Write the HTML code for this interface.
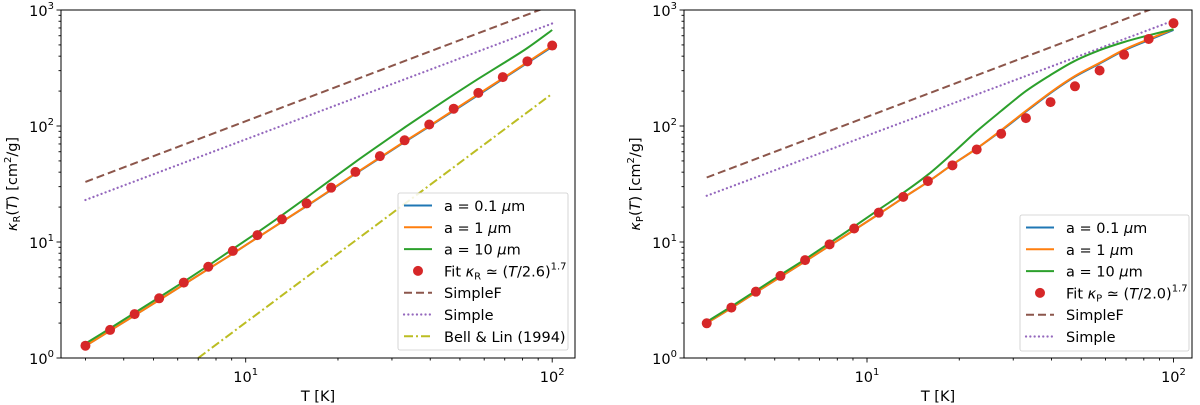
<!DOCTYPE html>
<html><head><meta charset="utf-8"><style>
html,body{margin:0;padding:0;background:#fff;width:1200px;height:405px;overflow:hidden}
svg{font-family:"DejaVu Sans","Liberation Sans",sans-serif}
</style></head><body>
<svg id="fig" width="1200" height="405" viewBox="0 0 1200 405" xmlns="http://www.w3.org/2000/svg"></svg>
<script>
// ---- data: left panel (Rosseland) ----
const tGrid = [3,3.61,4.34,5.22,6.28,7.55,9.08,10.92,13.13,15.8,19.0,22.8,27.4,33.0,39.7,47.7,57.4,69.0,83.0,100];
const leftFit = [1.276,1.746,2.39,3.27,4.47,6.12,8.38,11.46,15.7,21.5,29.4,40.2,55.0,75.3,103,141,193,264,361,494];
const leftOrange = [1.27,1.72,2.33,3.16,4.3,5.85,7.95,10.9,14.9,20.5,28.3,39,53.5,73.5,100,137,188,258,355,490];
const leftBlue = [1.27,1.72,2.33,3.16,4.3,5.85,7.95,10.9,14.9,20.4,28.1,38.7,53,72.8,99,135,185,254,350,482];
const leftGreen = [1.33,1.8,2.45,3.33,4.55,6.25,8.7,12.1,17.0,24.2,34.5,49,69,97,135,186,255,345,470,673];
const simpleT = [3,100];
const leftSimpleF = [33,1100];
const leftSimple = [23,765];
const bellT = [7.0,100];
const bellVals = [1,190];
// ---- data: right panel (Planck) ----
const rightFit = [1.992,2.72,3.73,5.10,6.98,9.55,13.07,17.9,24.5,33.5,45.8,62.7,85.8,117,160.6,220,301,412,563,770];
const rightOrange = [2.0,2.7,3.68,5.0,6.8,9.3,12.7,17.4,24,33,46.5,64,92,135,195,270,350,455,560,685];
const rightBlue = [2.0,2.7,3.68,5.0,6.8,9.3,12.7,17.4,24,33,46.5,64,91,133,192,266,345,448,550,672];
const rightGreen = [2.05,2.78,3.8,5.2,7.1,9.8,13.6,19,26.5,38,58,90,135,200,275,365,450,530,605,681];
const rightSimpleF = [36,1200];
const rightSimple = [25,810];

const NS='http://www.w3.org/2000/svg';
const svg=document.getElementById('fig');
function mk(tag,attrs,parent){const e=document.createElementNS(NS,tag);for(const k in attrs)e.setAttribute(k,attrs[k]);(parent||svg).appendChild(e);return e;}

function smoothPath(pts){
  if(pts.length<3) return 'M'+pts.map(p=>p[0].toFixed(1)+','+p[1].toFixed(1)).join(' L');
  let d='M'+pts[0][0].toFixed(1)+','+pts[0][1].toFixed(1);
  for(let i=0;i<pts.length-1;i++){
    const p0=pts[Math.max(0,i-1)],p1=pts[i],p2=pts[i+1],p3=pts[Math.min(pts.length-1,i+2)];
    const c1=[p1[0]+(p2[0]-p0[0])/6,p1[1]+(p2[1]-p0[1])/6];
    const c2=[p2[0]-(p3[0]-p1[0])/6,p2[1]-(p3[1]-p1[1])/6];
    d+=' C'+c1.map(v=>v.toFixed(1)).join(',')+' '+c2.map(v=>v.toFixed(1)).join(',')+' '+p2[0].toFixed(1)+','+p2[1].toFixed(1);
  }
  return d;
}

function panel(cfg){
  const g=mk('g',{});
  
  
  const L=cfg.left,R=cfg.right,T=10,B=358;
  const x10=cfg.x10, dec=306.5, ydec=(B-T)/3;
  const X=t=>x10+(Math.log10(t)-1)*dec;
  const Y=v=>B-Math.log10(v)*ydec;
  const clip='clip-'+cfg.name;
  const cp=mk('clipPath',{id:clip},g); mk('rect',{x:L,y:T,width:R-L,height:B-T},cp);
  const plot=mk('g',{'clip-path':'url(#'+clip+')'},g);
  function line(ts,vs,color,dash,name,w,cap){
    const p=mk('path',{d:smoothPath(ts.map((t,i)=>[X(t),Y(vs[i])])),fill:'none',stroke:color,'stroke-width':w||2,'stroke-dasharray':dash||'none','stroke-linecap':cap||'butt'},plot);
    
    
  }
  line(simpleT,cfg.simpleF,'#8c564b','8,4','simplef-line');
  line(simpleT,cfg.simple,'#9467bd','0.1,4.2','simple-line',2.2,'round');
  if(cfg.bell) line(bellT,bellVals,'#bcbd22','9,3,2,3','bell-lin-line');
  line(tGrid,cfg.blue,'#1f77b4',null,'a-0.1-line');
  line(tGrid,cfg.orange,'#ff7f0e',null,'a-1-line');
  line(tGrid,cfg.green,'#2ca02c',null,'a-10-line');
  cfg.fit.forEach((v,i)=>{
    const c=mk('circle',{cx:X(tGrid[i]),cy:Y(v),r:5,fill:'#d62728'},plot);
    
    
  });
  const f=mk('rect',{x:L,y:T,width:R-L,height:B-T,fill:'none',stroke:'#000','stroke-width':1},g);
  
  
  for(let d=0;d<=2;d++)for(let m=1;m<10;m++){
    const t=m*Math.pow(10,d),x=X(t); if(x<L||x>R)continue;
    mk('line',{x1:x,x2:x,y1:B,y2:B+(m==1?4.5:2.5),stroke:'#000','stroke-width':0.9},g);
    if(m==1){const tx=mk('text',{x:x,y:B+24,'font-size':14.5,'text-anchor':'middle'},g);
      
      
      tx.innerHTML='10<tspan dy="-7" font-size="10">'+d+'</tspan>';}
  }
  for(let d=0;d<=3;d++)for(let m=1;m<10;m++){
    if(d==3&&m>1)continue;
    const v=m*Math.pow(10,d),y=Y(v);
    mk('line',{x1:L,x2:L-(m==1?4.5:2.5),y1:y,y2:y,stroke:'#000','stroke-width':0.9},g);
    if(m==1){const tx=mk('text',{x:L-7,y:y+6,'font-size':14.5,'text-anchor':'end'},g);
      
      
      tx.innerHTML='10<tspan dy="-7" font-size="10">'+d+'</tspan>';}
  }
  const xl=mk('text',{x:(L+R)/2,y:401,'font-size':14.5,'text-anchor':'middle'},g);
  
  
  xl.textContent='T [K]';
  const yl=mk('text',{x:0,y:0,'font-size':14.5,'text-anchor':'middle',transform:'translate('+(L-44)+',184) rotate(-90)'},g);
  
  
  yl.innerHTML='<tspan font-style="italic">κ</tspan><tspan font-size="10" dy="3">'+cfg.sub+'</tspan><tspan dy="-3">(</tspan><tspan font-style="italic">T</tspan>) [cm<tspan dy="-6" font-size="10">2</tspan><tspan dy="6">/g]</tspan>';
  const lg=cfg.legend;
  const lb=mk('rect',{x:lg.x,y:lg.y,width:lg.w,height:lg.h,fill:'#fff','fill-opacity':0.85,stroke:'#ccc','stroke-width':0.8,rx:2},g);
  
  
  cfg.entries.forEach((e,i)=>{
    const cy=lg.y+12.5+i*21.8, x0=lg.x+6;
    if(e.type=='dot'){mk('circle',{cx:x0+14,cy:cy,r:5,fill:e.c},g);}
    else mk('line',{x1:x0,x2:x0+28,y1:cy,y2:cy,stroke:e.c,'stroke-width':e.w||2,'stroke-dasharray':e.d||'none','stroke-linecap':e.cap||'butt'},g);
    const t=mk('text',{x:x0+40,y:cy+5.5,'font-size':14.5},g);
    
    
    t.innerHTML=e.t;
  });
}
const um='<tspan font-style="italic">μ</tspan>m';
const base=[{c:'#1f77b4',t:'a = 0.1 '+um},{c:'#ff7f0e',t:'a = 1 '+um},{c:'#2ca02c',t:'a = 10 '+um}];
const sfE={c:'#8c564b',d:'8,4',t:'SimpleF'}, sE={c:'#9467bd',d:'0.1,4.2',cap:'round',w:2.2,t:'Simple'};
panel({name:'rosseland-panel',left:61,right:575,x10:245.7,sub:'R',fit:leftFit,orange:leftOrange,blue:leftBlue,green:leftGreen,simpleF:leftSimpleF,simple:leftSimple,bell:true,
 legend:{x:398,y:193,w:170,h:157},
 entries:base.concat([{type:'dot',c:'#d62728',t:'Fit <tspan font-style="italic">κ</tspan><tspan font-size="10" dy="3">R</tspan><tspan dy="-3"> ≃ (</tspan><tspan font-style="italic">T</tspan>/2.6)<tspan dy="-7" font-size="10">1.7</tspan>'},sfE,sE,{c:'#bcbd22',d:'9,3,2,3',t:'Bell &amp; Lin (1994)'}])});
panel({name:'planck-panel',left:684,right:1192,x10:867,sub:'P',fit:rightFit,orange:rightOrange,blue:rightBlue,green:rightGreen,simpleF:rightSimpleF,simple:rightSimple,bell:false,
 legend:{x:1020,y:215,w:169,h:136},
 entries:base.concat([{type:'dot',c:'#d62728',t:'Fit <tspan font-style="italic">κ</tspan><tspan font-size="10" dy="3">P</tspan><tspan dy="-3"> ≃ (</tspan><tspan font-style="italic">T</tspan>/2.0)<tspan dy="-7" font-size="10">1.7</tspan>'},sfE,sE])});
</script>
</body></html>
